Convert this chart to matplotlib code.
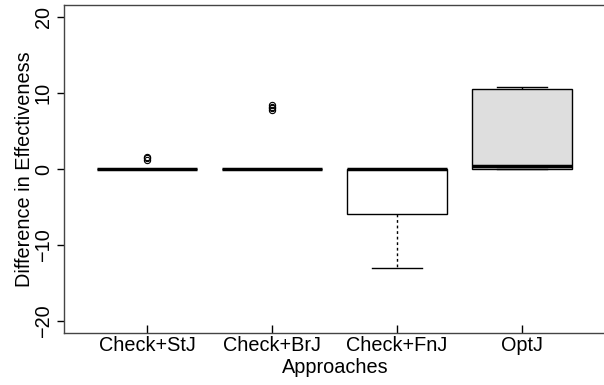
import matplotlib
matplotlib.use("Agg")
import matplotlib.pyplot as plt

plt.rcParams['font.family'] = ['Liberation Sans', 'DejaVu Sans']

# summary stats
approaches = ['Check+StJ', 'Check+BrJ', 'Check+FnJ', 'OptJ']
medians = [0.0, 0.0, 0.0, 0.4]
q1 = [0.0, 0.0, -5.95, 0.0]
q3 = [0.0, 0.0, 0.0, 10.55]
whis_lo = [0.0, 0.0, -13.0, 0.0]
whis_hi = [0.0, 0.0, 0.0, 10.75]
outliers = [[1.2, 1.4, 1.6], [7.8, 8.0, 8.2, 8.4], [], []]
fills = ['white', 'white', 'white', '#dedede']

stats = []
for i, name in enumerate(approaches):
    stats.append(dict(label=name, med=medians[i], q1=q1[i], q3=q3[i],
                      whislo=whis_lo[i], whishi=whis_hi[i], fliers=outliers[i]))

fig = plt.figure(figsize=(6.04, 3.85), dpi=100)
ax = fig.add_axes([64/604, 52/385, 600/604, 328/385])
ax.patch.set_visible(False)

bp = ax.bxp(stats, positions=[1, 2, 3, 4], widths=0.8, capwidths=0.4,
            patch_artist=True,
            boxprops=dict(linewidth=1.0, edgecolor='black'),
            whiskerprops=dict(linewidth=1.0, linestyle=(0, (2, 2)), color='black'),
            capprops=dict(linewidth=1.0, color='black'),
            medianprops=dict(linewidth=2.5, color='black', solid_capstyle='butt'),
            flierprops=dict(marker='o', markersize=4.5, markerfacecolor='none',
                            markeredgecolor='black', markeredgewidth=0.8))
for patch, c in zip(bp['boxes'], fills):
    patch.set_facecolor(c)

# 125 px per category, left frame 83 px before the first box centre
ax.set_xlim(0.336, 0.336 + 600 / 125)
ax.set_ylim(-21.6, 21.6)
ax.set_yticks([-20, -10, 0, 10, 20])
ax.set_yticklabels(['\u221220', '\u221210', '0', '10', '20'], rotation=90, va='center')
ax.tick_params(axis='y', direction='out', length=5, width=1, labelsize=14.3, pad=3)
ax.tick_params(axis='x', direction='in', length=6, width=1, labelsize=14.3, pad=2)
for s in ax.spines.values():
    s.set_linewidth(1.0)
    s.set_color('#444444')
ax.spines['right'].set_visible(False)  # frame runs off the right edge

ax.set_xlabel('Approaches', fontsize=14.3)
ax.xaxis.set_label_coords((335 - 64) / 600, -0.075)
ax.set_ylabel('Difference in Effectiveness', fontsize=14.3, labelpad=0)

fig.savefig('out.png', dpi=100, facecolor='white')
